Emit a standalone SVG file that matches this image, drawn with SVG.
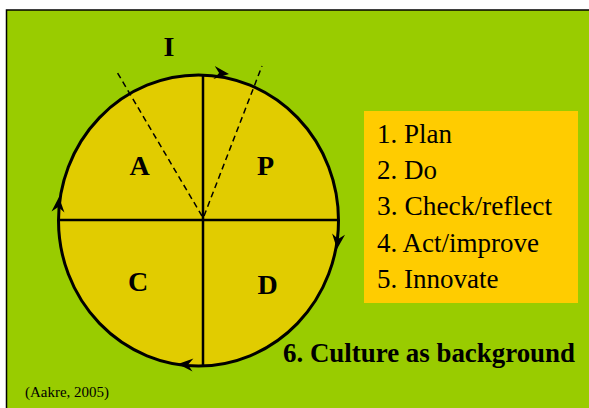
<svg xmlns="http://www.w3.org/2000/svg" width="589" height="408" viewBox="0 0 589 408">
  <style>
    .serif { font-family: "Liberation Serif", "Times New Roman", serif; fill: #000; }
    .big { font-size: 28px; font-weight: bold; }
    .item { font-size: 27px; }
    .line { stroke: #000; stroke-width: 2.5; fill: none; }
    .dash { stroke: #000; stroke-width: 1.5; stroke-dasharray: 6 4; fill: none; }
  </style>
  <defs>
    <path id="head" d="M0 0 L-15 -6.5 L-10 0 L-15 6.5 Z" fill="#000"/>
  </defs>

  <!-- page background and framed panel -->
  <rect x="0" y="0" width="589" height="408" fill="#ffffff"/>
  <rect x="6.5" y="10" width="590" height="405" fill="#99CC00" stroke="#000" stroke-width="1.5"/>

  <!-- the cycle -->
  <g id="cycle">
    <ellipse cx="198.5" cy="220.5" rx="140" ry="145.5" fill="#E1CC00" stroke="#000" stroke-width="3"/>
  </g>

  <g id="connectors">
    <line class="line" x1="203" y1="75.5" x2="203" y2="365.5"/>
    <line class="line" x1="58.5" y1="220" x2="338.5" y2="220"/>
    <line class="dash" x1="202" y1="216" x2="117" y2="72"/>
    <line class="dash" x1="204" y1="216" x2="262" y2="66"/>
    <use href="#head" transform="translate(229,74) rotate(6)"/>
    <use href="#head" transform="translate(337,249) rotate(96)"/>
    <use href="#head" transform="translate(178,364) rotate(184)"/>
    <use href="#head" transform="translate(59,197) rotate(-86)"/>
  </g>

  <g id="label-I"><text class="serif big" x="169" y="56" text-anchor="middle">I</text></g>
  <g id="quadrant-A"><text class="serif big" x="139.5" y="175" text-anchor="middle">A</text></g>
  <g id="quadrant-P"><text class="serif big" x="265.5" y="175" text-anchor="middle">P</text></g>
  <g id="quadrant-C"><text class="serif big" x="138" y="291" text-anchor="middle">C</text></g>
  <g id="quadrant-D"><text class="serif big" x="267.5" y="294" text-anchor="middle">D</text></g>

  <!-- legend -->
  <g id="legend">
    <rect x="364" y="111" width="214" height="192" fill="#FFCC00"/>
    <text class="serif item" x="377" y="143">1. Plan</text>
    <text class="serif item" x="377" y="179">2. Do</text>
    <text class="serif item" x="377" y="215" textLength="175" lengthAdjust="spacingAndGlyphs">3. Check/reflect</text>
    <text class="serif item" x="377" y="252">4. Act/improve</text>
    <text class="serif item" x="377" y="288">5. Innovate</text>
  </g>

  <g id="culture"><text class="serif big" x="283" y="362" font-size="27" textLength="292" lengthAdjust="spacingAndGlyphs">6. Culture as background</text></g>
  <g id="citation"><text class="serif" x="25" y="397" font-size="15" textLength="84" lengthAdjust="spacingAndGlyphs">(Aakre, 2005)</text></g>
</svg>
